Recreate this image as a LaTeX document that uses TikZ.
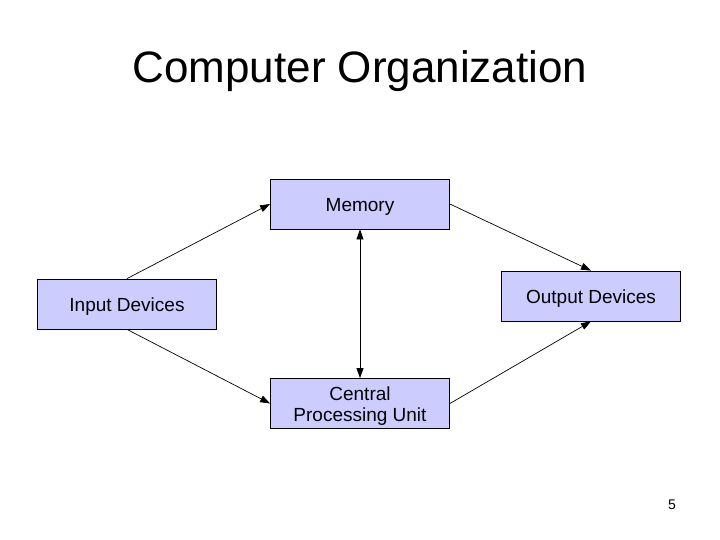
\documentclass[tikz,border=0pt]{standalone}
\usepackage{fontspec}
\setmainfont{Liberation Sans}
\usetikzlibrary{arrows.meta}
\definecolor{boxfill}{RGB}{204,204,255}
\newcommand{\lowtext}[1]{\raisebox{-3pt}[\height][\depth]{\begin{tabular}{@{}c@{}}#1\end{tabular}}}
\begin{document}
\begin{tikzpicture}[x=1pt,y=-1pt,
  unitbox/.style={draw=black,line width=0.8pt,fill=boxfill,minimum width=179pt,minimum height=50pt,inner sep=0pt,align=center,font=\fontsize{19}{21.5}\selectfont},
  conn/.style={line width=0.7pt,-{Triangle[length=10pt,width=7pt]}},
  conn2/.style={line width=0.7pt,{Triangle[length=10pt,width=7pt]}-{Triangle[length=10pt,width=7pt]}}]
\useasboundingbox (0,0) rectangle (720,540);
\node (title) at (360,71) {\fontsize{44}{50}\selectfont Computer Organization};
\node[unitbox] (mem) at (360,204) {\lowtext{Memory}};
\node[unitbox] (inp) at (127,304) {\lowtext{Input Devices}};
\node[unitbox] (out) at (591,296) {\lowtext{Output Devices}};
\node[unitbox] (cpu) at (360,403.5) {\lowtext{Central\\Processing Unit}};
\node (pg) at (672,505) {\fontsize{14}{16}\selectfont 5};
\draw[conn] (inp.north) -- (mem.west);
\draw[conn] (inp.south) -- (cpu.west);
\draw[conn] (mem.east) -- (out.north);
\draw[conn] (cpu.east) -- (out.south);
\draw[conn2] (mem.south) -- (cpu.north);
\end{tikzpicture}
\end{document}
